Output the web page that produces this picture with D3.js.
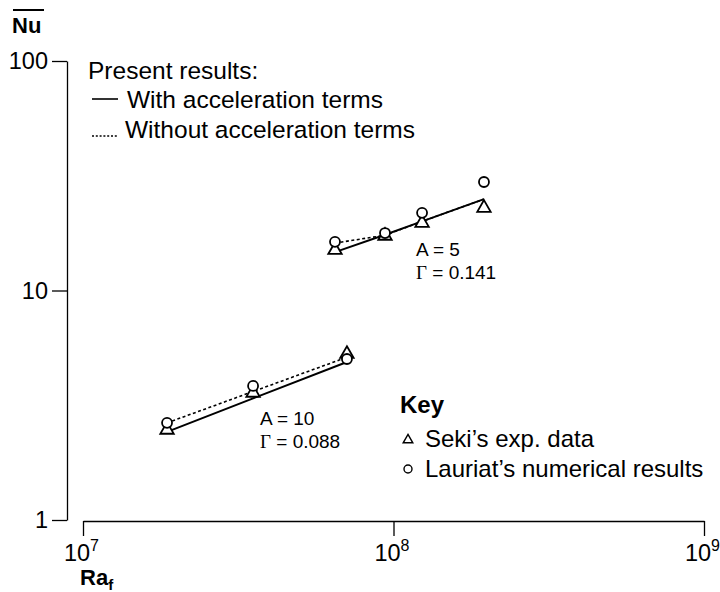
<!DOCTYPE html>
<html>
<head>
<meta charset="utf-8">
<script src="https://cdn.jsdelivr.net/npm/d3@7/dist/d3.min.js"></script>
<style>
  html, body { margin: 0; padding: 0; background: #fff; }
  svg { display: block; font-family: "Liberation Sans", Arial, Helvetica, sans-serif; }
</style>
</head>
<body>
<svg id="chart" width="720" height="592"></svg>
<script>
// ---- data ----
const xTicks = [1e7, 1e8, 1e9];
const xTickExp = ["7", "8", "9"];
const yTicks = [1, 10, 100];
const yTickLabels = ["1", "10", "100"];

// A = 10, Gamma = 0.088
const raA10 = [1.865e7, 3.53e7, 7.08e7];
const sekiA10 = [2.47, 3.58, 5.29];
const lauriatA10 = [2.65, 3.84, 5.03];
const withAccA10 = [2.42, 3.39, 4.88];
const withoutAccA10 = [2.65, 3.63, 5.12];

// A = 5, Gamma = 0.141
const raA5 = [6.48e7, 9.39e7, 1.236e8, 1.956e8];
const sekiA5 = [15.0, 17.3, 19.7, 22.9];
const lauriatA5 = [16.3, 17.8, 21.8, 29.7];
const withAccA5 = [14.7, 17.5, 20.0, 25.0];
const withoutAccA5 = [16.1, 17.4, 20.0, 25.0];

const legendLines = ["With acceleration terms", "Without acceleration terms"];
const keyLabels = ["Seki\u2019s exp. data", "Lauriat\u2019s numerical results"];

// ---- scales ----
const svg = d3.select("#chart");
const x = d3.scaleLog().domain([1e7, 1e9]).range([83, 704]);
const y = d3.scaleLog().domain([1, 100]).range([520, 61]);

const tickFont = 23.5, legendFont = 24.5, keyFont = 24, noteFont = 19;

// ---- y axis ----
const yAxis = svg.append("g").attr("transform", "translate(67,0)")
  .call(d3.axisLeft(y).tickValues(yTicks).tickSize(15).tickSizeOuter(0)
    .tickPadding(4).tickFormat((d, i) => yTickLabels[i]));
yAxis.selectAll("path,line").attr("stroke", "#000").attr("stroke-width", 1.3);
yAxis.selectAll("text").attr("font-size", tickFont).attr("fill", "#000")
  .attr("font-family", "Liberation Sans, Arial, sans-serif");

// ---- x axis ----
const xAxis = svg.append("g").attr("transform", "translate(0,521)")
  .call(d3.axisBottom(x).tickValues(xTicks).tickSize(15).tickSizeOuter(0).tickFormat(() => ""));
xAxis.selectAll("path,line").attr("stroke", "#000").attr("stroke-width", 1.3);
xAxis.selectAll(".tick text").each(function(d, i) {
  const t = d3.select(this).text(null)
    .attr("y", 40).attr("dy", 0).attr("x", -2)
    .attr("font-size", tickFont).attr("fill", "#000")
    .attr("font-family", "Liberation Sans, Arial, sans-serif");
  t.append("tspan").text("10");
  t.append("tspan").attr("font-size", 16).attr("dy", -10).text(xTickExp[i]);
});

// ---- axis titles ----
svg.append("text").attr("x", 12).attr("y", 33).attr("font-size", 22)
  .attr("font-weight", "bold").text("Nu");
svg.append("line").attr("x1", 13).attr("x2", 44).attr("y1", 10).attr("y2", 10)
  .attr("stroke", "#000").attr("stroke-width", 2);
const raT = svg.append("text").attr("x", 80).attr("y", 585).attr("font-size", 22)
  .attr("font-weight", "bold");
raT.append("tspan").text("Ra");
raT.append("tspan").attr("font-size", 15).attr("dy", 5).text("f");

// ---- lines ----
const line = d3.line().x(d => x(d[0])).y(d => y(d[1]));
function drawLine(ra, vals, dashed) {
  svg.append("path").datum(ra.map((r, i) => [r, vals[i]]))
    .attr("d", line).attr("fill", "none").attr("stroke", "#000")
    .attr("stroke-width", dashed ? 1.6 : 2)
    .attr("stroke-dasharray", dashed ? "3,2.5" : null);
}
drawLine(raA10, withoutAccA10, true);
drawLine(raA10, withAccA10, false);
drawLine(raA5, withoutAccA5, true);
drawLine(raA5, withAccA5, false);

// ---- markers ----
const tri = d3.symbol().type(d3.symbolTriangle).size(78);
function drawTri(ra, vals) {
  ra.forEach((r, i) => {
    svg.append("path").attr("d", tri())
      .attr("transform", `translate(${x(r)},${y(vals[i])})`)
      .attr("fill", "#fff").attr("stroke", "#000").attr("stroke-width", 1.8);
  });
}
function drawCirc(ra, vals) {
  ra.forEach((r, i) => {
    svg.append("circle").attr("cx", x(r)).attr("cy", y(vals[i])).attr("r", 5)
      .attr("fill", "#fff").attr("stroke", "#000").attr("stroke-width", 1.8);
  });
}
drawTri(raA10, sekiA10); drawCirc(raA10, lauriatA10);
drawTri(raA5, sekiA5); drawCirc(raA5, lauriatA5);

// ---- annotations ----
function note(xp, yp, a, g) {
  svg.append("text").attr("x", xp).attr("y", yp).attr("font-size", noteFont).text(a);
  const t = svg.append("text").attr("x", xp).attr("y", yp + 23).attr("font-size", noteFont);
  t.append("tspan").attr("font-family", "Liberation Serif, Times New Roman, serif").text("\u0393");
  t.append("tspan").text(" = " + g);
}
note(416, 256, "A = 5", "0.141");
note(260, 425, "A = 10", "0.088");

// ---- legend ----
svg.append("text").attr("x", 88).attr("y", 79).attr("font-size", legendFont).text("Present results:");
svg.append("line").attr("x1", 92).attr("x2", 118).attr("y1", 99).attr("y2", 99)
  .attr("stroke", "#000").attr("stroke-width", 1.6);
svg.append("text").attr("x", 127).attr("y", 108).attr("font-size", legendFont).text(legendLines[0]);
svg.append("line").attr("x1", 92).attr("x2", 118).attr("y1", 136).attr("y2", 136)
  .attr("stroke", "#000").attr("stroke-width", 1.3).attr("stroke-dasharray", "2,1.8");
svg.append("text").attr("x", 125).attr("y", 138).attr("font-size", legendFont).text(legendLines[1]);

// ---- key ----
svg.append("text").attr("x", 400).attr("y", 413).attr("font-size", keyFont)
  .attr("font-weight", "bold").text("Key");
svg.append("path").attr("d", d3.symbol().type(d3.symbolTriangle).size(40)())
  .attr("transform", "translate(408,440)").attr("fill", "#fff").attr("stroke", "#000").attr("stroke-width", 1.4);
svg.append("text").attr("x", 425).attr("y", 447).attr("font-size", keyFont).text(keyLabels[0]);
svg.append("circle").attr("cx", 408).attr("cy", 469).attr("r", 4)
  .attr("fill", "#fff").attr("stroke", "#000").attr("stroke-width", 1.4);
svg.append("text").attr("x", 425).attr("y", 477).attr("font-size", keyFont).text(keyLabels[1]);
</script>
</body>
</html>
